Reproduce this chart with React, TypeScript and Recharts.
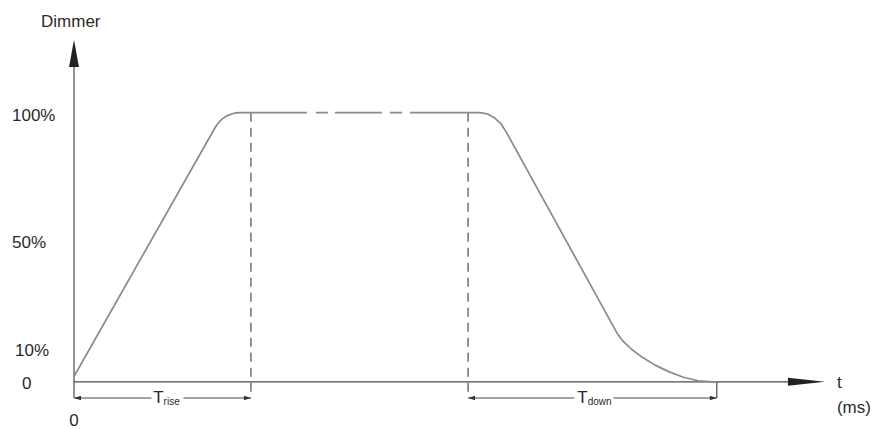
import React from 'react';
import { LineChart, Line, XAxis, YAxis, ReferenceLine, ReferenceDot } from 'recharts';

// ---- data ----
const X_DOMAIN = [0, 268];
const Y_DOMAIN = [-6, 127];
const Y_TICKS = [0, 10, 50, 100];
const Y_TICK_LABELS = ['0', '10%', '50%', '100%'];
const X_TICKS = [0];
const X_TICK_LABELS = ['0'];

const RISE_T = [0, 46.9, 47.7, 48.5, 49.4, 50.4, 51.5, 52.7, 53.9, 55.3, 58.9];
const RISE_V = [2, 94.3, 95.7, 96.8, 97.7, 98.5, 99.1, 99.6, 99.9, 100, 100];

const HOLD_T = [58.9, 131.2];
const HOLD_V = [100, 100];

const FALL_T = [131.2, 135.2, 137.7, 140.1, 142.2, 144.1, 180.8, 182.7, 185.5, 189.1, 193.3, 198.0, 202.9, 207.8, 212.7, 214.0];
const FALL_V = [100, 100, 99.5, 98.0, 95.8, 92.4, 18.1, 15.2, 12.2, 9.2, 6.3, 3.8, 1.7, 0.4, 0, 0];

const T_RISE = [0, 58.9];
const T_DOWN = [131.2, 214.0];
const DIM_LEVEL = -6;
const Y_ARROW_TIP = 127;
const X_AXIS_END = 238;
const X_ARROW_TIP = 250;

const AXIS_TITLE_Y = 'Dimmer';
const AXIS_TITLE_X = ['t', '(ms)'];

// ---- styles ----
const FONT = '"Liberation Sans", Arial, Helvetica, sans-serif';
const TEXT = '#2a2a2a';
const AXIS = '#4a4a4a';
const CURVE = '#8a8a8a';
const DASH = '#666';
const Y_NUDGE: Record<number, { x: number; dy: number }> = {
  0: { x: 22, dy: 7 },
  10: { x: 15, dy: 1 },
  50: { x: 12, dy: 1 },
  100: { x: 12, dy: 8 },
};

const rise = RISE_T.map((t, i) => ({ t, v: RISE_V[i] }));
const hold = HOLD_T.map((t, i) => ({ t, v: HOLD_V[i] }));
const fall = FALL_T.map((t, i) => ({ t, v: FALL_V[i] }));

const YTick = (props: any) => {
  const { y, payload } = props;
  const idx = Y_TICKS.indexOf(payload.value);
  const n = Y_NUDGE[payload.value] || { x: 12, dy: 6 };
  return (
    <text x={n.x} y={y + n.dy} fill={TEXT} fontSize={17} fontFamily={FONT} textAnchor="start">
      {Y_TICK_LABELS[idx]}
    </text>
  );
};

const XTick = (props: any) => {
  const { x, payload } = props;
  const idx = X_TICKS.indexOf(payload.value);
  return (
    <text x={x} y={426} fill={TEXT} fontSize={17} fontFamily={FONT} textAnchor="middle">
      {X_TICK_LABELS[idx]}
    </text>
  );
};

const YArrow = (p: any) => (
  <g>
    <polygon points={`${p.cx},${p.cy} ${p.cx - 5},${p.cy + 27} ${p.cx + 5},${p.cy + 27}`} fill="#222" />
    <text x={p.cx - 33} y={p.cy - 13} fill={TEXT} fontSize={17} fontFamily={FONT}>
      {AXIS_TITLE_Y}
    </text>
  </g>
);

const XArrow = (p: any) => (
  <g>
    <polygon points={`${p.cx},${p.cy} ${p.cx - 37},${p.cy - 4} ${p.cx - 37},${p.cy + 4}`} fill="#222" />
    <text x={p.cx + 12} y={p.cy + 6} fill={TEXT} fontSize={17} fontFamily={FONT}>
      {AXIS_TITLE_X[0]}
    </text>
    <text x={p.cx + 12} y={p.cy + 31} fill={TEXT} fontSize={17} fontFamily={FONT}>
      {AXIS_TITLE_X[1]}
    </text>
  </g>
);

const ArrowLeft = (p: any) => (
  <polygon points={`${p.cx},${p.cy} ${p.cx + 7},${p.cy - 2.2} ${p.cx + 7},${p.cy + 2.2}`} fill="#333" />
);
const ArrowRight = (p: any) => (
  <polygon points={`${p.cx},${p.cy} ${p.cx - 7},${p.cy - 2.2} ${p.cx - 7},${p.cy + 2.2}`} fill="#333" />
);

const DimLabel = (sub: string, left: number, right: number, shift: number) => (p: any) => (
  <g>
    <rect x={p.cx - left} y={p.cy - 3} width={left + right} height={6} fill="#fff" />
    <text x={p.cx + shift} y={p.cy + 5} fill={TEXT} fontFamily={FONT} textAnchor="middle">
      <tspan fontSize={17}>T</tspan>
      <tspan fontSize={10} dy={1.5}>{sub}</tspan>
    </text>
  </g>
);

export default function App() {
  return (
    <div style={{ position: 'absolute', left: 0, top: 0, width: 879, height: 429, background: '#fff' }}>
      <LineChart width={879} height={429} margin={{ top: 40, right: 0, bottom: 0, left: 0 }}>
        <XAxis
          type="number"
          dataKey="t"
          domain={X_DOMAIN}
          ticks={X_TICKS}
          height={31}
          axisLine={false}
          tickLine={false}
          allowDataOverflow
          tick={XTick}
        />
        <YAxis
          type="number"
          dataKey="v"
          domain={Y_DOMAIN}
          ticks={Y_TICKS}
          width={74}
          axisLine={false}
          tickLine={false}
          allowDataOverflow
          interval={0}
          tick={YTick}
        />

        {/* axes */}
        <ReferenceLine segment={[{ x: 0, y: 120 }, { x: 0, y: DIM_LEVEL }]} stroke={AXIS} strokeWidth={1.2} ifOverflow="visible" />
        <ReferenceLine segment={[{ x: 0, y: 0 }, { x: X_AXIS_END, y: 0 }]} stroke={AXIS} strokeWidth={1.2} ifOverflow="visible" />

        {/* dashed verticals */}
        <ReferenceLine segment={[{ x: T_RISE[1], y: 100 }, { x: T_RISE[1], y: DIM_LEVEL }]} stroke={DASH} strokeWidth={1.4} strokeDasharray="9 6" ifOverflow="visible" />
        <ReferenceLine segment={[{ x: T_DOWN[0], y: 100 }, { x: T_DOWN[0], y: DIM_LEVEL }]} stroke={DASH} strokeWidth={1.4} strokeDasharray="9 6" ifOverflow="visible" />
        <ReferenceLine segment={[{ x: T_DOWN[1], y: 0 }, { x: T_DOWN[1], y: DIM_LEVEL }]} stroke={AXIS} strokeWidth={1.2} ifOverflow="visible" />

        {/* dimension lines */}
        <ReferenceLine segment={[{ x: T_RISE[0], y: DIM_LEVEL }, { x: T_RISE[1], y: DIM_LEVEL }]} stroke={AXIS} strokeWidth={1.1} ifOverflow="visible" />
        <ReferenceLine segment={[{ x: T_DOWN[0], y: DIM_LEVEL }, { x: T_DOWN[1], y: DIM_LEVEL }]} stroke={AXIS} strokeWidth={1.1} ifOverflow="visible" />

        <Line data={rise} dataKey="v" type="linear" stroke={CURVE} strokeWidth={1.7} strokeLinejoin="round" dot={false} isAnimationActive={false} />
        <Line data={hold} dataKey="v" type="linear" stroke={CURVE} strokeWidth={1.7} strokeDasharray="56 9 12 7 47 8 12 8 200" dot={false} isAnimationActive={false} />
        <Line data={fall} dataKey="v" type="linear" stroke={CURVE} strokeWidth={1.7} strokeLinejoin="round" dot={false} isAnimationActive={false} />

        <ReferenceDot x={0} y={Y_ARROW_TIP} r={0} ifOverflow="visible" shape={YArrow} />
        <ReferenceDot x={X_ARROW_TIP} y={0} r={0} ifOverflow="visible" shape={XArrow} />
        <ReferenceDot x={T_RISE[0]} y={DIM_LEVEL} r={0} ifOverflow="visible" shape={ArrowLeft} />
        <ReferenceDot x={T_RISE[1]} y={DIM_LEVEL} r={0} ifOverflow="visible" shape={ArrowRight} />
        <ReferenceDot x={T_DOWN[0]} y={DIM_LEVEL} r={0} ifOverflow="visible" shape={ArrowLeft} />
        <ReferenceDot x={T_DOWN[1]} y={DIM_LEVEL} r={0} ifOverflow="visible" shape={ArrowRight} />
        <ReferenceDot x={(T_RISE[0] + T_RISE[1]) / 2} y={DIM_LEVEL} r={0} ifOverflow="visible" shape={DimLabel('rise', 11, 21, 4)} />
        <ReferenceDot x={(T_DOWN[0] + T_DOWN[1]) / 2} y={DIM_LEVEL} r={0} ifOverflow="visible" shape={DimLabel('down', 18, 21, 2)} />
      </LineChart>
    </div>
  );
}
